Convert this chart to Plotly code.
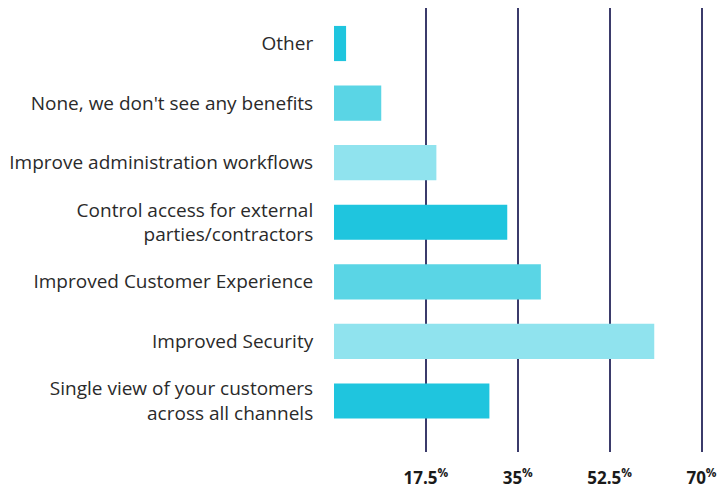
import plotly.graph_objects as go

categories = [
    "Other",
    "None, we don't see any benefits",
    "Improve administration workflows",
    "Control access for external<br>parties/contractors",
    "Improved Customer Experience",
    "Improved Security",
    "Single view of your customers<br>across all channels",
]
values = [2.3, 9.0, 19.5, 33.0, 39.4, 61.0, 29.6]
colors = ["#1fc5de", "#5ad5e5", "#90e3ee", "#1fc5de", "#5ad5e5", "#90e3ee", "#1fc5de"]
tick_vals = [17.5, 35, 52.5, 70]
tick_text = ["17.5<sup>%</sup>", "35<sup>%</sup>", "52.5<sup>%</sup>", "70<sup>%</sup>"]

fig = go.Figure(go.Bar(
    x=values, y=categories, orientation="h",
    marker=dict(color=colors, line=dict(width=0)),
    width=0.59,
    hoverinfo="skip",
))

# page body has an 8px margin, so the figure is sized to fit the window
fig.update_layout(
    width=720, height=484,
    margin=dict(l=326, r=15.5, t=0, b=40),
    paper_bgcolor="white", plot_bgcolor="white",
    showlegend=False,
    font=dict(family="Open Sans", color="#2a2a2a"),
)
fig.update_xaxes(
    range=[0, 72], tickvals=tick_vals, ticktext=tick_text,
    showgrid=True, gridcolor="#3b3b6b", gridwidth=1.5,
    zeroline=False, showline=False, automargin=False,
    tickfont=dict(family="Open Sans", size=17, color="#1a1a1a", weight="bold"),
    ticks="outside", ticklen=11, tickcolor="rgba(0,0,0,0)",
)
fig.update_yaxes(
    categoryorder="array", categoryarray=categories,
    range=[6.856, -0.596],
    showgrid=False, zeroline=False, showline=False, automargin=False,
    tickfont=dict(family="Open Sans", size=19, color="#2a2a2a"),
    ticks="outside", ticklen=16, tickcolor="rgba(0,0,0,0)",
)

fig.write_html("out.html")
